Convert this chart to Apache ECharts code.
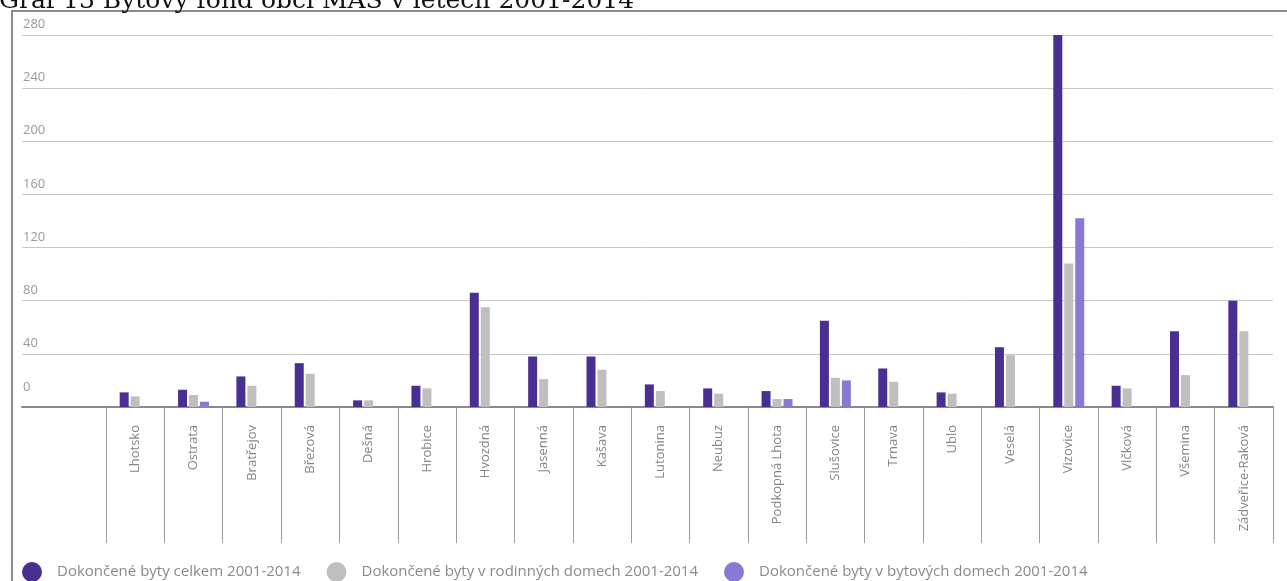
<!DOCTYPE html>
<html>
<head>
<meta charset="utf-8">
<script src="https://cdn.jsdelivr.net/npm/echarts@6/dist/echarts.min.js"></script>
<style>
html,body{margin:0;padding:0;background:#fff;}
#chart{width:1287px;height:581px;}
</style>
</head>
<body>
<div id="chart"></div>
<script>
var titleText = 'Graf 13 Bytový fond obcí MAS v letech 2001-2014';
var categories = ['Lhotsko','Ostrata','Bratřejov','Březová','Dešná','Hrobice','Hvozdná','Jasenná','Kašava','Lutonina','Neubuz','Podkopná Lhota','Slušovice','Trnava','Ublo','Veselá','Vizovice','Vlčková','Všemina','Zádveřice-Raková'];
var seriesNames = ['Dokončené byty celkem 2001-2014','Dokončené byty v rodinných domech 2001-2014','Dokončené byty v bytových domech 2001-2014'];
var celkem   = [11, 13, 23, 33, 5, 16, 86, 38, 38, 17, 14, 12, 65, 29, 11, 45, 280, 16, 57, 80];
var rodinne  = [8, 9, 16, 25, 5, 14, 75, 21, 28, 12, 10, 6, 22, 19, 10, 39, 108, 14, 24, 57];
var bytove   = [0, 4, 0, 0, 0, 0, 0, 0, 0, 0, 0, 6, 20, 0, 0, 0, 142, 0, 0, 0];
var yMin = 0, yMax = 280, yStep = 40;

var colors = ['#4a2f92', '#bfbfbf', '#8a78d4'];
var chart = echarts.init(document.getElementById('chart'));
var font = "'Open Sans', sans-serif";
var option = {
  animation: false,
  color: colors,
  graphic: [
    {type:'rect', shape:{x:12, y:11, width:1300, height:620}, style:{fill:'none', stroke:'#8c8c8c', lineWidth:2}, z:0},
    {type:'text', x:-1, y:14, style:{text:titleText, font:"25px 'DejaVu Serif'", fill:'#111', textVerticalAlign:'bottom'}, z:10}
  ],
  legend: {
    left: 22, top: 562, padding: 0,
    icon: 'circle', itemWidth: 20, itemHeight: 20, itemGap: 26,
    textStyle: {fontFamily: font, fontSize: 15, color: '#8a8a8a', padding: [0,0,0,10]},
    data: seriesNames
  },
  grid: [
    {left: 106, right: 14, top: 35, bottom: 174},
    {left: 22, right: 14, top: 35, bottom: 174}
  ],
  xAxis: [
    {type:'category', gridIndex:0, data: categories, boundaryGap:true,
     axisLine:{show:false},
     axisTick:{show:true, interval:0, length:136, lineStyle:{color:'#9a9a9a', width:1}},
     axisLabel:{interval:0, rotate:90, margin:18, fontFamily:font, fontSize:13, color:'#858585'}},
    {type:'value', gridIndex:1, min:0, max:1,
     axisLine:{show:true, lineStyle:{color:'#8a8a8a', width:2}},
     axisTick:{show:false}, axisLabel:{show:false}, splitLine:{show:false}}
  ],
  yAxis: [
    {type:'value', gridIndex:0, min:yMin, max:yMax, interval:yStep, show:false, splitLine:{show:false}},
    {type:'value', gridIndex:1, min:yMin, max:yMax, interval:yStep,
     axisLine:{show:false}, axisTick:{show:false},
     splitLine:{show:true, lineStyle:{color:'#c8c8c8', width:1}},
     axisLabel:{inside:true, margin:1, verticalAlign:'bottom', padding:[0,0,4,0], fontFamily:font, fontSize:13, color:'#999',
       formatter: function(v){ return v === 0 ? '{z|0}' : String(v); },
       rich: {z: {fontFamily:font, fontSize:13, color:'#999', padding:[0,0,9,0]}}}}
  ],
  series: [
    {name: seriesNames[0], type:'bar', xAxisIndex:0, yAxisIndex:0, data: celkem, barWidth:9, barGap:'22%'},
    {name: seriesNames[1], type:'bar', xAxisIndex:0, yAxisIndex:0, data: rodinne, barWidth:9, barGap:'22%'},
    {name: seriesNames[2], type:'bar', xAxisIndex:0, yAxisIndex:0, data: bytove, barWidth:9, barGap:'22%'}
  ]
};
chart.setOption(option);
</script>
</body>
</html>
